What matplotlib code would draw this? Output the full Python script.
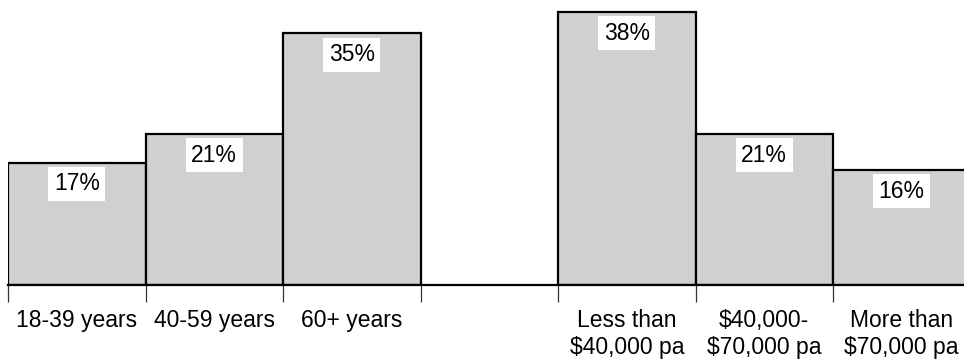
import numpy as np
import matplotlib
matplotlib.use("Agg")
import matplotlib.pyplot as plt

plt.rcParams['font.family'] = ['Liberation Sans', 'DejaVu Sans']

age_groups = ["18-39 years", "40-59 years", "60+ years"]
age_share = [17, 21, 35]
income_groups = ["Less than\n$40,000 pa", "$40,000-\n$70,000 pa", "More than\n$70,000 pa"]
income_share = [38, 21, 16]

# one empty slot separates the two groups
slots = age_groups + [""] + income_groups
values = age_share + [None] + income_share

W, H = 964, 363
fig = plt.figure(figsize=(W / 100, H / 100), dpi=100)
unit = 137.5  # pixels per slot
base = 78     # baseline pixels from bottom
ax = fig.add_axes([8 / W, base / H, 7 * unit / W, 280 / H])
ax.set_xlim(0, 7)
ax.set_ylim(0, 280 / 7.19)

bar_color = "#cfd0d2"
for i, v in enumerate(values):
    if v is None:
        continue
    ax.bar(i + 0.5, v, width=1.0, color=bar_color, edgecolor="black",
           linewidth=1.6, zorder=2)
    ax.annotate(f"{v}%", xy=(i + 0.5, v), xytext=(0, -7.0),
                textcoords="offset points", ha="center", va="top",
                fontsize=16.5, color="black", zorder=4,
                bbox=dict(boxstyle="square,pad=0.24", fc="white", ec="none"))

for s in ["left", "right", "top"]:
    ax.spines[s].set_visible(False)
ax.spines["bottom"].set_linewidth(1.6)
ax.spines["bottom"].set_zorder(3)
ax.set_yticks([])

ax.set_xticks(np.arange(0, 7))
ax.set_xticklabels([])
ax.tick_params(axis="x", which="major", direction="out", length=12.5,
               width=0.9, color="#333333")
ax.set_xticks(np.arange(7) + 0.5, minor=True)
ax.set_xticklabels(slots, minor=True, fontsize=16.5, linespacing=1.22)
ax.tick_params(axis="x", which="minor", length=0, pad=17.5)
for lbl in ax.get_xticklabels(minor=True):
    lbl.set_verticalalignment("top")

fig.savefig("out.png", dpi=100)
